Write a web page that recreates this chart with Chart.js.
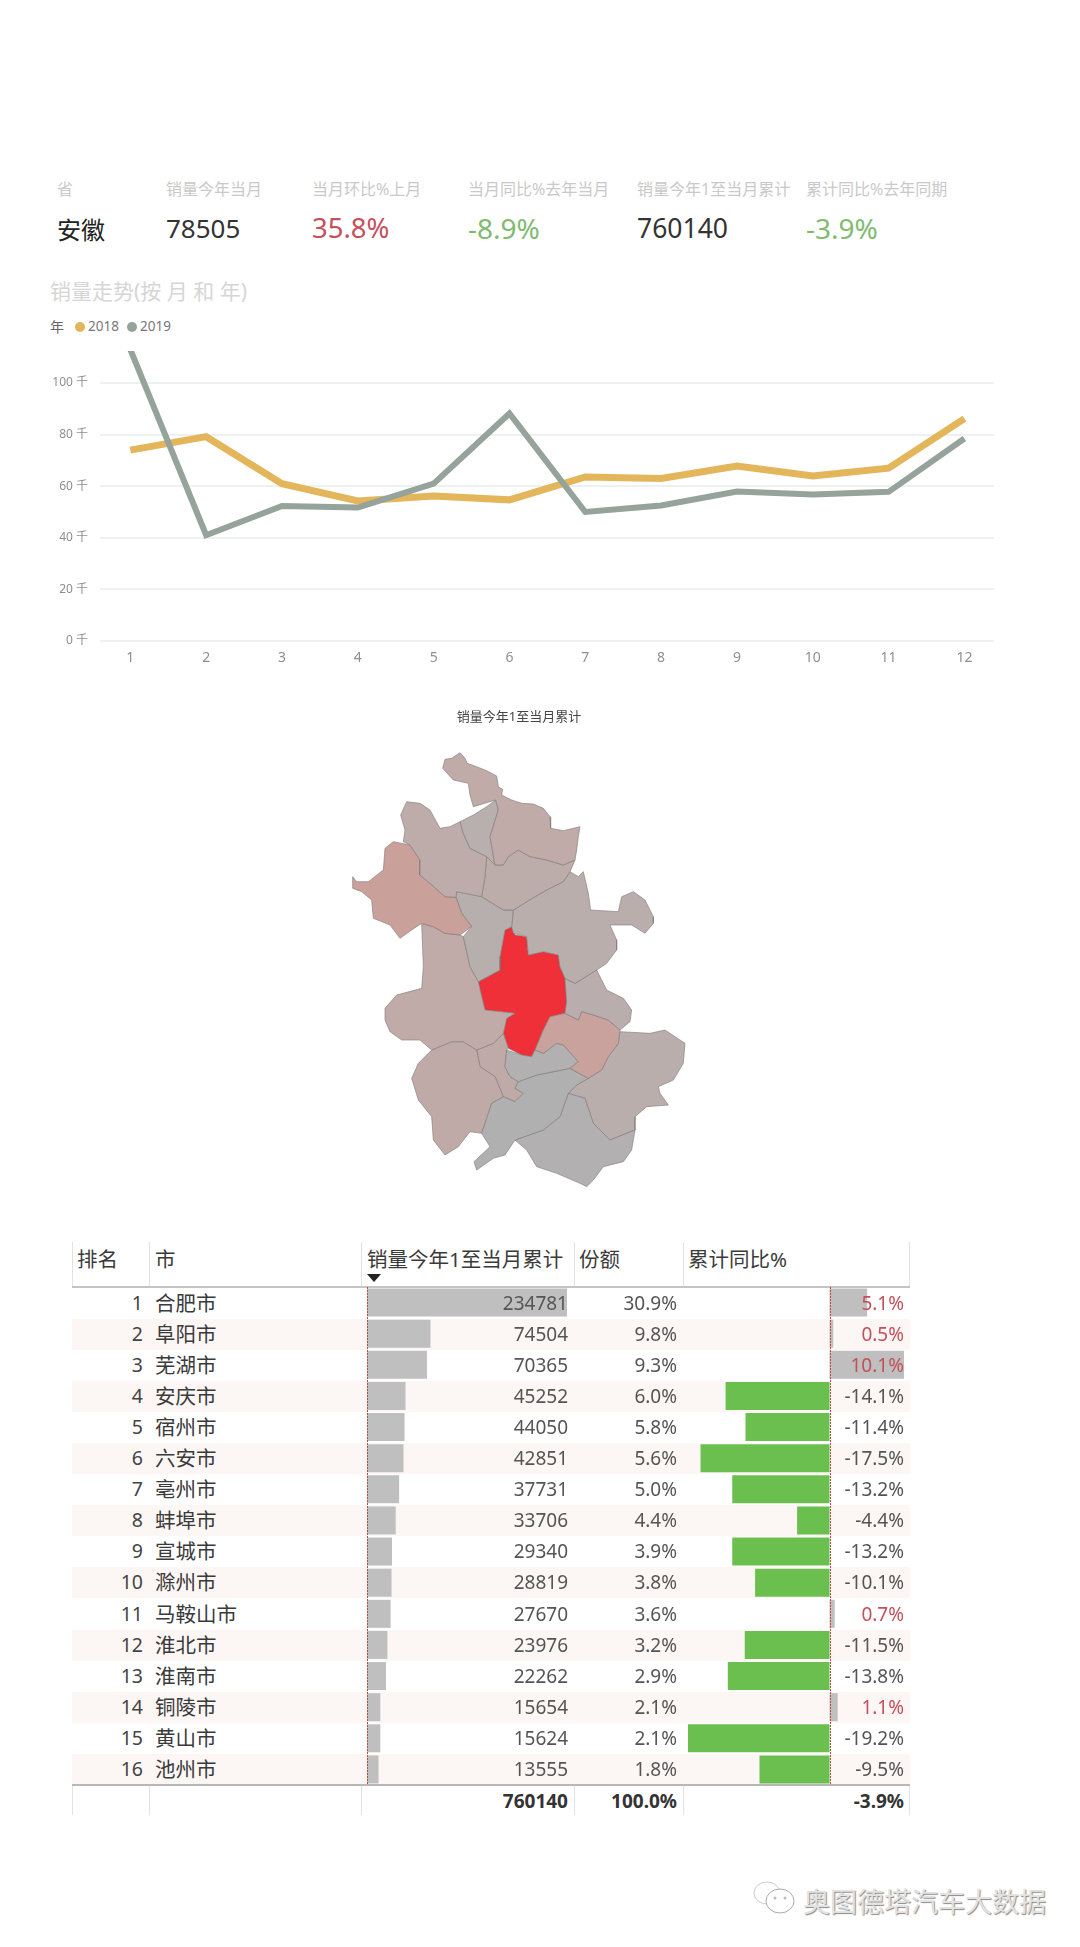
<!DOCTYPE html>
<html lang="zh">
<head>
<meta charset="utf-8">
<title>安徽销量</title>
<script src="https://cdn.jsdelivr.net/npm/chart.js@4/dist/chart.umd.min.js"></script>
<style>
    html, body { margin: 0; padding: 0; background: #fff; }
    body { position: relative; width: 1080px; height: 1947px; overflow: hidden;
           font-family: "Noto Sans", "Noto Sans CJK SC", sans-serif; }
    canvas { position: absolute; }
    .txt { position: absolute; white-space: nowrap; line-height: 1; transform: translateY(-50%); z-index: 3; }
    .right { transform: translate(-100%, -50%); }
    .box { position: absolute; }
</style>
</head>
<body>
<canvas id="trendChart" width="1080" height="340" style="left:0;top:340px"></canvas>
<canvas id="mapChart" width="380" height="500" style="left:330px;top:700px"></canvas>
<canvas id="salesChart" width="204" height="498" style="left:365px;top:1287px;z-index:2"></canvas>
<canvas id="yoyChart" width="220" height="498" style="left:686px;top:1287px;z-index:2"></canvas>

<script>
// --- Trend data (thousands) ---
const months = [1, 2, 3, 4, 5, 6, 7, 8, 9, 10, 11, 12];
const sales2018 = [74, 79.2, 61, 54.3, 56.2, 54.7, 63.6, 63, 67.8, 64, 67, 86.2];
const sales2019 = [113, 41, 52.3, 51.7, 61, 88.2, 50, 52.5, 57.9, 56.8, 57.8, 78.5];

// --- KPI strip ---
const kpiLabels = ['省', '销量今年当月', '当月环比%上月', '当月同比%去年当月', '销量今年1至当月累计', '累计同比%去年同期'];
const kpiValues = ['安徽', '78505', '35.8%', '-8.9%', '760140', '-3.9%'];

// --- Table data ---
const tableHeaders = ['排名', '市', '销量今年1至当月累计', '份额', '累计同比%'];
const ranks = [1, 2, 3, 4, 5, 6, 7, 8, 9, 10, 11, 12, 13, 14, 15, 16];
const cities = ['合肥市', '阜阳市', '芜湖市', '安庆市', '宿州市', '六安市', '亳州市', '蚌埠市', '宣城市', '滁州市', '马鞍山市', '淮北市', '淮南市', '铜陵市', '黄山市', '池州市'];
const cityTotals = [234781, 74504, 70365, 45252, 44050, 42851, 37731, 33706, 29340, 28819, 27670, 23976, 22262, 15654, 15624, 13555];
const shares = [30.9, 9.8, 9.3, 6.0, 5.8, 5.6, 5.0, 4.4, 3.9, 3.8, 3.6, 3.2, 2.9, 2.1, 2.1, 1.8];
const yoy = [5.1, 0.5, 10.1, -14.1, -11.4, -17.5, -13.2, -4.4, -13.2, -10.1, 0.7, -11.5, -13.8, 1.1, -19.2, -9.5];
const grandTotal = ['760140', '100.0%', '-3.9%'];

// --- Map outlines, in map units (x right, y down) ---
const outlineSuzhou = [[338,205],[345,178],[365,175],[390,158],[405,175],[412,190],[440,200],[470,212],[500,228],[505,260],[518,268],[515,285],[545,300],[575,310],[610,312],[640,325],[660,350],[662,385],[700,392],[750,380],[745,410],[740,450],[735,480],[700,495],[650,480],[600,470],[565,450],[535,470],[520,495],[495,495],[480,410],[505,330],[497,300],[430,320],[420,285],[415,250],[370,240]];
const outlineHuaibei = [[390,365],[430,345],[470,320],[497,300],[505,330],[480,410],[495,495],[470,470],[420,445],[400,400]];
const outlineBozhou = [[212,345],[230,305],[270,310],[300,330],[330,385],[360,380],[390,365],[400,400],[420,445],[470,470],[465,530],[455,590],[380,575],[378,592],[345,590],[300,550],[270,525],[270,480],[240,435],[220,425],[225,390]];
const outlineFuyang = [[68,530],[80,545],[115,545],[160,510],[165,445],[190,425],[240,435],[270,480],[270,525],[300,550],[345,590],[378,592],[395,640],[425,680],[390,705],[345,700],[310,680],[275,670],[245,690],[210,715],[180,675],[130,655],[125,600],[95,575],[68,565]];
const outlineBengbu = [[470,470],[495,495],[520,495],[535,470],[565,450],[600,470],[650,480],[700,495],[735,480],[720,515],[700,545],[650,570],[615,590],[550,630],[520,630],[455,590],[465,530]];
const outlineHuainan = [[380,575],[455,590],[520,630],[550,630],[545,680],[525,690],[510,770],[510,810],[445,845],[420,800],[400,710],[425,680],[395,640],[378,592]];
const outlineChuzhou = [[550,630],[615,590],[650,570],[700,545],[720,515],[745,530],[760,515],[775,580],[782,630],[865,635],[875,590],[910,575],[945,600],[970,650],[970,670],[945,700],[905,675],[840,675],[860,720],[860,750],[830,790],[800,810],[735,850],[705,835],[690,800],[685,765],[640,755],[595,765],[590,710],[550,700],[545,680]];
const outlineMaanshan = [[705,835],[735,850],[800,810],[830,870],[880,895],[905,930],[900,965],[870,990],[835,960],[790,945],[755,935],[745,960],[705,940],[710,905]];
const outlineHefei = [[525,690],[545,680],[555,705],[590,710],[595,765],[640,755],[685,765],[690,800],[705,835],[710,905],[705,940],[660,950],[640,990],[615,1050],[605,1070],[575,1065],[535,1045],[520,1000],[530,955],[555,940],[465,930],[455,890],[445,845],[510,810],[510,770]];
const outlineWuhu = [[705,940],[745,960],[755,935],[790,945],[835,960],[870,990],[865,1030],[835,1070],[815,1110],[775,1135],[720,1105],[745,1085],[700,1035],[680,1030],[640,1060],[615,1050],[640,990],[660,950]];
const outlineTongling = [[530,1050],[575,1065],[605,1070],[615,1050],[640,1060],[680,1030],[700,1035],[745,1085],[720,1105],[620,1125],[565,1145],[540,1130],[525,1100]];
const outlineChizhou = [[565,1145],[620,1125],[720,1105],[775,1135],[740,1155],[715,1180],[690,1250],[640,1290],[555,1320],[525,1365],[490,1375],[440,1410],[432,1385],[480,1340],[455,1300],[485,1210],[520,1190],[555,1205],[580,1180],[555,1165]];
const outlineHuangshan = [[555,1320],[640,1290],[690,1250],[715,1180],[765,1195],[790,1270],[840,1320],[915,1290],[905,1350],[880,1385],[820,1400],[790,1440],[770,1460],[750,1450],[680,1420],[620,1400],[590,1350]];
const outlineXuancheng = [[775,1135],[815,1110],[835,1070],[865,1030],[870,995],[960,1000],[1005,990],[1065,1030],[1060,1090],[1030,1140],[985,1160],[990,1180],[1015,1215],[950,1220],[915,1250],[915,1290],[840,1320],[790,1270],[765,1195],[715,1180],[740,1155]];
const outlineLuan = [[275,670],[310,680],[345,700],[390,705],[400,710],[420,800],[445,845],[455,890],[465,930],[555,940],[530,955],[520,1000],[490,1030],[440,1050],[400,1025],[365,1025],[305,1050],[270,1020],[215,1020],[180,995],[165,960],[165,925],[200,885],[275,865],[280,800]];
const outlineAnqing = [[305,1050],[365,1025],[400,1025],[440,1050],[450,1100],[495,1130],[520,1190],[485,1210],[455,1300],[420,1295],[385,1340],[345,1365],[310,1320],[305,1250],[265,1200],[245,1135],[265,1090]];
const outlineAnqingEast = [[440,1050],[490,1030],[520,1000],[535,1045],[530,1050],[525,1100],[540,1130],[565,1145],[555,1165],[580,1180],[555,1205],[520,1190],[495,1130],[450,1100]];

const mapRegions = [
    ['宿州市', outlineSuzhou], ['淮北市', outlineHuaibei], ['亳州市', outlineBozhou],
    ['阜阳市', outlineFuyang], ['蚌埠市', outlineBengbu], ['淮南市', outlineHuainan],
    ['滁州市', outlineChuzhou], ['马鞍山市', outlineMaanshan], ['芜湖市', outlineWuhu],
    ['铜陵市', outlineTongling], ['池州市', outlineChizhou], ['黄山市', outlineHuangshan],
    ['宣城市', outlineXuancheng], ['六安市', outlineLuan], ['安庆市', outlineAnqing],
    ['安庆市', outlineAnqingEast], ['合肥市', outlineHefei]
];

// --- Helpers ---
function put(text, x, y, size, color, opts = {}) {
    const el = document.createElement('div');
    el.className = 'txt' + (opts.right ? ' right' : '');
    el.textContent = text;
    el.style.cssText += `left:${x}px;top:${y}px;font-size:${size}px;color:${color};font-weight:${opts.weight || 400}`;
    document.body.appendChild(el);
    return el;
}

function box(x, y, w, h, color) {
    const el = document.createElement('div');
    el.className = 'box';
    el.style.cssText = `left:${x}px;top:${y}px;width:${w}px;height:${h}px;background:${color}`;
    document.body.appendChild(el);
}

// Sales -> map colour, grey for the smallest city through salmon up to red for the biggest
function regionColor(city) {
    const v = cityTotals[cities.indexOf(city)];
    const lo = Math.min(...cityTotals), hi = Math.max(...cityTotals);
    const t = (v - lo) / (hi - lo);
    const r = 176 + 64 * Math.pow(t, 0.7);
    const g = 176 - 128 * Math.pow(t, 1.6);
    const b = 176 - 120 * Math.pow(t, 1.35);
    return `rgb(${Math.round(r)},${Math.round(g)},${Math.round(b)})`;
}

// Dotted zero line for the table's data bars
const zeroLine = {
    id: 'zeroLine',
    afterDatasetsDraw(chart) {
        const x = chart.scales.x.getPixelForValue(0);
        const { ctx, chartArea } = chart;
        ctx.save();
        ctx.strokeStyle = '#c2483f';
        ctx.lineWidth = 1;
        ctx.setLineDash([2, 1]);
        ctx.beginPath();
        ctx.moveTo(Math.round(x) + 0.5, chartArea.top);
        ctx.lineTo(Math.round(x) + 0.5, chartArea.bottom);
        ctx.stroke();
        ctx.restore();
    }
};

// --- KPI strip ---
const kpiX = [57, 166, 312, 468, 637, 806];
const kpiSizes = [24, 26, 27.5, 28, 26.5, 28];
const kpiColors = ['#222', '#333', '#c5505c', '#80bb70', '#333', '#80bb70'];
kpiLabels.forEach((label, i) => {
    put(label, kpiX[i], 189, 16, '#c9c9c9');
    put(kpiValues[i], kpiX[i], i === 0 ? 230 : 228, kpiSizes[i], kpiColors[i]);
});

// --- Trend chart heading and legend ---
put('销量走势(按 月 和 年)', 50, 291, 21, '#d6d6d6');
put('年', 50, 327, 14, '#666');
put('2018', 88, 327, 13.5, '#777');
put('2019', 140, 327, 13.5, '#777');
const legendDots = [[75, '#e3b65b'], [127, '#95a39b']];
legendDots.forEach(([x, c]) => {
    const dot = document.createElement('div');
    dot.className = 'box';
    dot.style.cssText = `left:${x}px;top:322px;width:10px;height:10px;border-radius:50%;background:${c}`;
    document.body.appendChild(dot);
});

// --- Trend chart ---
const toPoints = values => values.map((v, i) => ({ x: months[i], y: v }));
new Chart(document.getElementById('trendChart'), {
    type: 'line',
    data: {
        datasets: [
            { label: '2019', data: toPoints(sales2019), borderColor: '#95a39b', borderWidth: 6, pointRadius: 0, tension: 0, clip: 0 },
            { label: '2018', data: toPoints(sales2018), borderColor: '#e3b65b', borderWidth: 7, pointRadius: 0, tension: 0, clip: 0, order: 1 }
        ]
    },
    options: {
        responsive: false,
        animation: false,
        layout: { padding: { top: 11, right: 86 } },
        plugins: { legend: { display: false }, tooltip: { enabled: false } },
        scales: {
            x: {
                type: 'linear',
                min: 0.6,
                max: 12.39,
                afterBuildTicks: axis => { axis.ticks = months.map(m => ({ value: m })); },
                afterFit: axis => { axis.height = 39; },
                grid: { display: false },
                border: { display: false },
                ticks: { color: '#8f8f8f', font: { size: 14, family: '"Noto Sans"' }, padding: 1, callback: v => String(v), maxRotation: 0, autoSkip: false }
            },
            y: {
                min: 0,
                max: 112.4,
                afterBuildTicks: axis => { axis.ticks = axis.ticks.filter(t => t.value % 20 === 0); },
                afterFit: axis => { axis.width = 100; axis.paddingTop = 0; axis.paddingBottom = 0; },
                grid: { color: '#eef1f1', lineWidth: 2, drawTicks: false },
                border: { display: false },
                ticks: { stepSize: 20, color: '#8f8f8f', padding: 12, font: { size: 12, family: '"Noto Sans", "Noto Sans CJK SC"' }, callback: v => `${v} 千` }
            }
        }
    }
});

// --- Map ---
put('销量今年1至当月累计', 519, 716, 13, '#444').style.transform = 'translate(-50%, -50%)';
new Chart(document.getElementById('mapChart'), {
    type: 'scatter',
    data: {
        datasets: mapRegions.map(([city, outline]) => ({
            label: city,
            data: outline.concat([outline[0]]).map(([x, y]) => ({ x, y })),
            showLine: true,
            fill: 'shape',
            backgroundColor: regionColor(city),
            borderColor: 'rgba(125,120,120,0.6)',
            borderWidth: 1,
            borderJoinStyle: 'round',
            pointRadius: 0,
            tension: 0
        }))
    },
    options: {
        responsive: false,
        animation: false,
        plugins: { legend: { display: false }, tooltip: { enabled: false } },
        scales: {
            x: { display: false, min: 0, max: 1140 },
            y: { display: false, min: 0, max: 1500, reverse: true }
        }
    }
});

// --- Table background, rules and text ---
const rowTop = 1287.5, rowHeight = 31.1, rowRight = 910, rowLeft = 72;
ranks.forEach((rank, i) => {
    const top = rowTop + i * rowHeight;
    const mid = top + rowHeight / 2 - 0.5;
    if (i % 2 === 1) box(rowLeft, top, rowRight - rowLeft, rowHeight, '#fcf6f5');
    put(String(rank), 143, mid, 19.5, '#444', { right: true });
    put(cities[i], 155, mid, 20.5, '#3a3a3a');
    put(String(cityTotals[i]), 568, mid, 19, '#555', { right: true });
    put(shares[i].toFixed(1) + '%', 677, mid, 19, '#555', { right: true });
    put(yoy[i].toFixed(1) + '%', 904, mid, 19, yoy[i] > 0 ? '#c5505c' : '#555', { right: true });
});

const headerX = [77, 155, 367, 579, 688];
tableHeaders.forEach((h, i) => put(h, headerX[i], 1259, 20.5, '#3a3a3a'));

const colLines = [72, 149, 361, 574, 683, 909];
colLines.forEach(x => {
    box(x, 1242, 1, 44, '#e2e2e2');
    box(x, 1785, 1, 30, '#e2e2e2');
});
box(rowLeft, 1286, rowRight - rowLeft, 2, '#c4c4c4');
box(rowLeft, 1784, rowRight - rowLeft, 2, '#b8b8b8');

// sort marker under the sales header
const sortMark = document.createElement('div');
sortMark.className = 'box';
sortMark.style.cssText = 'left:367px;top:1274px;width:0;height:0;border-left:7px solid transparent;border-right:7px solid transparent;border-top:8px solid #222';
document.body.appendChild(sortMark);

put(grandTotal[0], 568, 1801, 19, '#333', { right: true, weight: 700 });
put(grandTotal[1], 677, 1801, 19, '#333', { right: true, weight: 700 });
put(grandTotal[2], 904, 1801, 19, '#333', { right: true, weight: 700 });

// --- Table data bars ---
function dataBars(canvasId, values, colors, min, max) {
    new Chart(document.getElementById(canvasId), {
        type: 'bar',
        plugins: [zeroLine],
        data: {
            labels: cities,
            datasets: [{ data: values, backgroundColor: colors, categoryPercentage: 0.9, barPercentage: 1 }]
        },
        options: {
            indexAxis: 'y',
            responsive: false,
            animation: false,
            layout: { padding: { left: 2, right: 2 } },
            plugins: { legend: { display: false }, tooltip: { enabled: false } },
            scales: {
                x: { display: false, min, max },
                y: { display: false }
            }
        }
    });
}

dataBars('salesChart', cityTotals, '#bfbfbf', 0, Math.max(...cityTotals));
dataBars('yoyChart', yoy, yoy.map(v => v < 0 ? '#6bbf4f' : '#bfbfbf'), Math.min(...yoy), Math.max(...yoy));

// --- Watermark ---
const mark = put('奥图德塔汽车大数据', 803, 1901, 27, '#e2e2e2');
mark.style.textShadow = '1px 1px 1px #8a8a8a';
const icon = document.createElementNS('http://www.w3.org/2000/svg', 'svg');
icon.setAttribute('width', '48');
icon.setAttribute('height', '40');
icon.style.cssText = 'position:absolute;left:751px;top:1880px';
icon.innerHTML = '<ellipse cx="16" cy="13" rx="13" ry="11" fill="#fff" stroke="#ccc"/><ellipse cx="29" cy="21" rx="14" ry="12" fill="#fff" stroke="#aaa"/>'
    + '<circle cx="24" cy="18" r="1.5" fill="#bbb"/><circle cx="34" cy="18" r="1.5" fill="#bbb"/>';
document.body.appendChild(icon);
</script>
</body>
</html>
